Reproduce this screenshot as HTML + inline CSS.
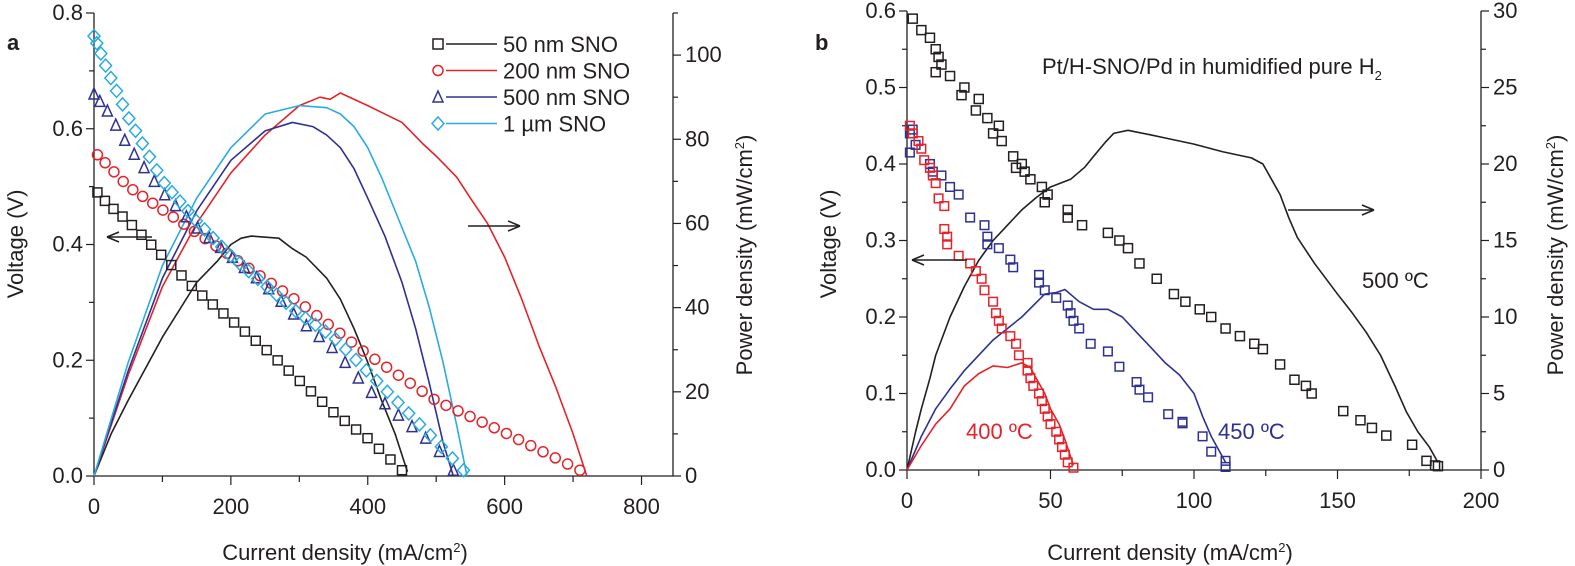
<!DOCTYPE html>
<html><head><meta charset="utf-8"><style>
body{margin:0;background:#fff}
svg{display:block;font-family:"Liberation Sans",sans-serif}
</style></head><body>
<svg id="s" width="1575" height="566" xmlns="http://www.w3.org/2000/svg"></svg>
<script>
const S=document.getElementById('s');let h='';
const K='#231f20',R='#e4232a',N='#2e3192',B='#29abe2';
function ax(o){
 const {L,Rt,T,Bt,xmax,ymax,y2max,xt,yt,y2t,xmin2,ymin2,y2min2}=o;
 const X=v=>L+(Rt-L)*v/xmax,Y=v=>Bt-(Bt-T)*v/ymax,Y2=v=>Bt-(Bt-T)*v/y2max;
 h+=`<path d="M${L} ${T}V${Bt}H${Rt}V${T}" fill="none" stroke="${K}" stroke-width="1.3"/>`;
 for(let v=0;v<=xmax+1e-9;v+=xmin2){const maj=Math.abs(v/xt-Math.round(v/xt))<1e-6;h+=`<line x1="${X(v)}" x2="${X(v)}" y1="${Bt}" y2="${Bt+(maj?9:6)}" stroke="${K}" stroke-width="1.2"/>`;if(maj)h+=`<text x="${X(v)}" y="${Bt+38}" font-size="22" text-anchor="middle" fill="${K}">${v}</text>`}
 for(let v=0;v<=ymax+1e-9;v+=ymin2){const maj=Math.abs(v/yt-Math.round(v/yt))<1e-6;h+=`<line x1="${L}" x2="${L-(maj?8:5)}" y1="${Y(v)}" y2="${Y(v)}" stroke="${K}" stroke-width="1.2"/>`;if(maj)h+=`<text x="${L-11}" y="${Y(v)+7}" font-size="22" text-anchor="end" fill="${K}">${v.toFixed(1)}</text>`}
 for(let v=0;v<=y2max+1e-9;v+=y2min2){const maj=Math.abs(v/y2t-Math.round(v/y2t))<1e-6;h+=`<line x1="${Rt}" x2="${Rt+(maj?8:5)}" y1="${Y2(v)}" y2="${Y2(v)}" stroke="${K}" stroke-width="1.2"/>`;if(maj)h+=`<text x="${Rt+12}" y="${Y2(v)+7}" font-size="22" fill="${K}">${v}</text>`}
 return {X,Y,Y2};
}
function line(P,c,X,Y){h+=`<polyline points="${P.map(p=>X(p[0])+','+Y(p[1])).join(' ')}" fill="none" stroke="${c}" stroke-width="1.6" stroke-linejoin="round"/>`}
function mk(t,x,y,c,s){
 if(t=='sq')h+=`<rect x="${x-s}" y="${y-s}" width="${2*s}" height="${2*s}" fill="none" stroke="${c}" stroke-width="1.5"/>`;
 if(t=='ci')h+=`<circle cx="${x}" cy="${y}" r="${s}" fill="none" stroke="${c}" stroke-width="1.5"/>`;
 if(t=='tr')h+=`<path d="M${x} ${y-s-1}L${x+s} ${y+s}H${x-s}Z" fill="none" stroke="${c}" stroke-width="1.5"/>`;
 if(t=='di')h+=`<path d="M${x} ${y-s-1.5}L${x+s+1} ${y}L${x} ${y+s+1.5}L${x-s-1} ${y}Z" fill="none" stroke="${c}" stroke-width="1.5"/>`;
}
function interp(P,n,x0,x1,g){g=g||1;const out=[];for(let i=0;i<n;i++){const x=x0+(x1-x0)*Math.pow(i/(n-1),g);let j=0;while(j<P.length-2&&P[j+1][0]<x)j++;const a=P[j],b=P[j+1];out.push([x,a[1]+(b[1]-a[1])*(x-a[0])/(b[0]-a[0])])}return out}
function arrow(x1,x2,y){const d=x2>x1?1:-1;h+=`<line x1="${x1}" x2="${x2}" y1="${y}" y2="${y}" stroke="${K}" stroke-width="1.5"/><path d="M${x2} ${y}L${x2-d*12} ${y-5}M${x2} ${y}L${x2-d*12} ${y+5}" stroke="${K}" stroke-width="1.5" fill="none"/>`}
// Panel a
let A=ax({L:94,Rt:673,T:13,Bt:476,xmax:846,ymax:0.8,y2max:110,xt:200,yt:0.2,y2t:20,xmin2:100,ymin2:0.1,y2min2:10});
line([[0,0],[25,10],[50,18],[100,33],[150,46],[180,51],[200,55],[215,56.5],[230,57],[270,56.5],[290,54],[310,52],[340,47],[360,42],[380,35],[400,27],[420,18],[440,10],[450,5],[458,1]],K,A.X,A.Y2);
line([[0,0],[50,24],[100,45],[150,60],[200,72],[250,81],[300,88],[330,90],[345,89.5],[360,91],[400,88],[450,84],[480,79],[500,76],[530,71],[550,66],[575,60],[600,52],[625,42],[650,31],[675,21],[700,10],[720,0]],R,A.X,A.Y2);
line([[0,0],[50,25],[100,47],[150,63],[200,75],[250,82],[290,84],[320,83],[340,81],[360,78],[380,73],[400,66],[425,57],[450,46],[470,35],[490,22],[510,8],[525,0]],N,A.X,A.Y2);
line([[0,0],[50,27],[100,50],[150,66],[200,78],[250,86],[300,88],[340,87.5],[360,86],[380,83],[400,78],[420,71],[445,61],[470,51],[490,40],[510,27],[530,12],[545,0]],B,A.X,A.Y2);
interp([[5,0.49],[20,0.47],[50,0.44],[100,0.38],[150,0.32],[200,0.27],[250,0.22],[300,0.165],[350,0.11],[400,0.065],[450,0.01]],30,5,450,1.1).forEach(p=>mk('sq',A.X(p[0]),A.Y(p[1]),K,4.5));
interp([[5,0.555],[50,0.50],[100,0.46],[200,0.38],[300,0.30],[400,0.21],[500,0.13],[600,0.075],[710,0.01]],44,5,710,1.1).forEach(p=>mk('ci',A.X(p[0]),A.Y(p[1]),R,5));
interp([[0,0.66],[20,0.63],[50,0.57],[100,0.49],[150,0.43],[200,0.38],[250,0.33],[300,0.27],[350,0.22],[400,0.15],[450,0.10],[500,0.05],[525,0.01]],32,0,525,1.2).forEach(p=>mk('tr',A.X(p[0]),A.Y(p[1]),N,5));
interp([[0,0.76],[20,0.70],[50,0.62],[100,0.51],[150,0.44],[200,0.38],[250,0.33],[300,0.28],[350,0.24],[400,0.18],[450,0.12],[500,0.06],[540,0.01]],44,0,540,1.3).forEach(p=>mk('di',A.X(p[0]),A.Y(p[1]),B,5));
arrow(152,107,237);arrow(468,520,226);
[['sq',K,'50 nm SNO'],['ci',R,'200 nm SNO'],['tr',N,'500 nm SNO'],['di',B,'1 µm SNO']].forEach((l,i)=>{const y=44+i*26.5;mk(l[0],438,y,l[1],5);h+=`<line x1="446" x2="497" y1="${y}" y2="${y}" stroke="${l[1]}" stroke-width="1.6"/><text x="503" y="${y+8}" font-size="22" fill="${K}">${l[2]}</text>`});
h+=`<text x="7" y="50" font-size="22" font-weight="bold" fill="${K}">a</text>`;
h+=`<text x="23" y="244" font-size="22" fill="${K}" text-anchor="middle" transform="rotate(-90 23 244)">Voltage (V)</text>`;
h+=`<text x="752" y="255" font-size="22" fill="${K}" text-anchor="middle" transform="rotate(-90 752 255)">Power density (mW/cm<tspan font-size="13" dy="-8">2</tspan><tspan dy="8">)</tspan></text>`;
h+=`<text x="345" y="560" font-size="22" fill="${K}" text-anchor="middle">Current density (mA/cm<tspan font-size="13" dy="-8">2</tspan><tspan dy="8">)</tspan></text>`;
// Panel b
let Bb=ax({L:907,Rt:1481,T:11,Bt:470,xmax:200,ymax:0.6,y2max:30,xt:50,yt:0.1,y2t:5,xmin2:25,ymin2:0.05,y2min2:2.5});
line([[0,0],[3,2.5],[5,4],[8,6],[10,7.5],[15,10],[20,12],[25,13.7],[30,15],[35,16],[40,17],[45,17.8],[50,18.5],[57,19],[62,19.8],[65,20.5],[69,21.4],[72,22],[77,22.2],[85,21.9],[90,21.7],[100,21.3],[110,20.8],[120,20.4],[124,20],[127,19],[130,18],[133,16.5],[136,15.2],[142,13.5],[150,11.5],[155,10.3],[160,9],[165,7.5],[170,5.5],[174,3.8],[178,2.5],[182,1.5],[185,0.5]],K,Bb.X,Bb.Y2);
line([[0,0],[5,2.2],[10,4],[15,5.3],[20,6.5],[30,8.5],[40,10],[48,11.5],[52,11.6],[55,11.8],[60,11],[65,10.5],[70,10.5],[75,10],[80,9],[85,8],[90,7],[95,6.2],[100,5],[103,3.5],[106,2.2],[111,0.5]],N,Bb.X,Bb.Y2);
line([[0,0],[5,1.6],[10,3],[15,4],[20,5.5],[25,6.3],[30,6.8],[35,6.7],[40,7],[43,6.7],[45,6],[48,5],[50,4],[53,3],[55,2],[58,0.3]],R,Bb.X,Bb.Y2);
[[2,0.59],[5,0.575],[8,0.565],[10,0.55],[11,0.54],[12,0.53],[10,0.52],[15,0.515],[20,0.50],[19,0.49],[25,0.485],[24,0.47],[28,0.46],[32,0.45],[30,0.44],[33,0.43],[37,0.41],[38,0.395],[40,0.40],[41,0.39],[43,0.38],[47,0.37],[49,0.36],[48,0.35],[56,0.34],[56,0.33],[61,0.32],[70,0.31],[74,0.30],[77,0.29],[81,0.27],[87,0.25],[93,0.23],[97,0.22],[102,0.21],[106,0.20],[111,0.185],[116,0.175],[121,0.165],[124,0.158],[130,0.138],[135,0.118],[139,0.11],[141,0.1],[152,0.077],[158,0.065],[162,0.055],[167,0.045],[176,0.033],[181,0.012],[184,0.006],[185,0.005]].forEach(p=>mk('sq',Bb.X(p[0]),Bb.Y(p[1]),K,4.5));
[[1,0.44],[2,0.445],[1,0.415],[3,0.425],[8,0.40],[9,0.39],[12,0.385],[15,0.37],[18,0.36],[22,0.33],[27,0.32],[28,0.305],[28,0.295],[32,0.29],[36,0.275],[37,0.265],[46,0.255],[46,0.245],[48,0.235],[52,0.225],[56,0.215],[57,0.205],[58,0.195],[60,0.185],[64,0.165],[70,0.155],[74,0.135],[80,0.115],[81,0.105],[84,0.095],[91,0.073],[96,0.063],[96,0.061],[103,0.044],[106,0.024],[111,0.012],[111,0.004]].forEach(p=>mk('sq',Bb.X(p[0]),Bb.Y(p[1]),N,4.3));
[[1,0.45],[2,0.44],[4,0.43],[5,0.42],[6,0.405],[8,0.395],[9,0.385],[10,0.375],[11,0.355],[13,0.345],[13,0.315],[14,0.305],[14,0.295],[18,0.28],[22,0.27],[24,0.26],[26,0.25],[27,0.235],[30,0.22],[31,0.205],[32,0.195],[33,0.185],[36,0.175],[38,0.165],[39,0.15],[42,0.14],[42,0.13],[43,0.12],[44,0.11],[46,0.10],[47,0.09],[48,0.08],[49,0.07],[50,0.06],[52,0.05],[53,0.04],[54,0.03],[55,0.02],[56,0.01],[58,0.003]].forEach(p=>mk('sq',Bb.X(p[0]),Bb.Y(p[1]),R,4.3));
arrow(967,912,260);arrow(1288,1374,210);
h+=`<text x="1042" y="74" font-size="22" fill="${K}">Pt/H-SNO/Pd in humidified pure H<tspan font-size="13" dy="6">2</tspan></text>`;
h+=`<text x="1362" y="288" font-size="22" fill="${K}">500 ºC</text>`;
h+=`<text x="966" y="439" font-size="22" fill="${R}">400 ºC</text>`;
h+=`<text x="1218" y="439" font-size="22" fill="${N}">450 ºC</text>`;
h+=`<text x="815" y="50" font-size="22" font-weight="bold" fill="${K}">b</text>`;
h+=`<text x="836" y="244" font-size="22" fill="${K}" text-anchor="middle" transform="rotate(-90 836 244)">Voltage (V)</text>`;
h+=`<text x="1563" y="255" font-size="22" fill="${K}" text-anchor="middle" transform="rotate(-90 1563 255)">Power density (mW/cm<tspan font-size="13" dy="-8">2</tspan><tspan dy="8">)</tspan></text>`;
h+=`<text x="1170" y="560" font-size="22" fill="${K}" text-anchor="middle">Current density (mA/cm<tspan font-size="13" dy="-8">2</tspan><tspan dy="8">)</tspan></text>`;
S.innerHTML=h;
</script>
</body></html>
